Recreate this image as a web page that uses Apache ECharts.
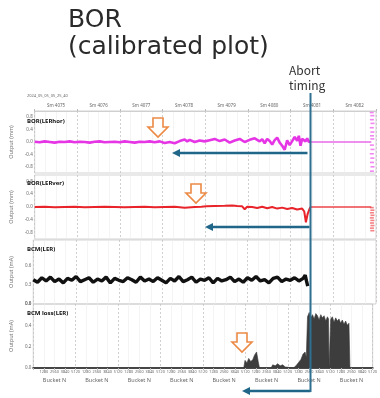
<!DOCTYPE html>
<html>
<head>
<meta charset="utf-8">
<script src="https://cdn.jsdelivr.net/npm/echarts@6/dist/echarts.min.js"></script>
<style>
  html, body { margin: 0; padding: 0; background: #fff; }
  #c { width: 380px; height: 398px; }
</style>
</head>
<body>
<div id="c"></div>
<script>
// Eight shifts of 5120 buckets each, laid end to end on one bucket axis
const shiftLabels = ['Sm 4075', 'Sm 4076', 'Sm 4077', 'Sm 4078', 'Sm 4079', 'Sm 4080', 'Sm 4081', 'Sm 4082'];
const bucketAxisLabel = 'Bucket N';
const bucketsPerShift = 5120;
const totalBuckets = 40960;
const abortBucket = 33100;
const timestamp = '2024_05_05_05_25_40';

const posTicks = [-0.8, -0.4, 0, 0.4, 0.8];
const bcmTicks = [0, 0.3, 0.6];
const lossTicks = [0, 0.2, 0.4, 0.6];

// BOR horizontal position (mm) before the abort
const horTrace = [
  [0, 0.01], [600, -0.01], [1200, 0.02], [1800, 0.0], [2400, -0.02], [3000, 0.01], [3600, 0.0],
  [4200, 0.02], [4800, -0.01], [5400, 0.01], [6000, 0.0], [6600, -0.02], [7200, 0.01], [7800, 0.02],
  [8400, -0.01], [9000, 0.0], [9600, 0.01], [10200, -0.01], [10800, 0.02], [11400, 0.0], [12000, -0.02],
  [12600, 0.01], [13200, 0.0], [13800, 0.02], [14400, -0.01], [15000, 0.02], [15600, -0.03], [16200, 0.0],
  [16800, -0.04], [17400, 0.03], [18000, 0.08], [18300, 0.02], [18600, 0.07], [19200, 0.0], [19800, 0.05],
  [20400, 0.02], [21000, 0.06], [21600, 0.1], [22200, 0.03], [22800, 0.08], [23400, -0.02], [24000, 0.05],
  [24600, 0.1], [25200, 0.0], [25800, 0.07], [26400, 0.12], [27000, 0.02], [27300, 0.09], [27600, -0.04],
  [27900, 0.1], [28200, 0.03], [28500, -0.08], [28800, 0.06], [29100, 0.14], [29400, -0.02], [29700, -0.12],
  [30000, -0.25], [30300, 0.05], [30600, -0.1], [30900, 0.03], [31200, 0.16], [31500, 0.04], [31700, 0.2],
  [31900, -0.12], [32100, 0.1], [32300, 0.16], [32500, 0.02], [32700, 0.12], [32900, 0.0], [33100, 0.03]
];
const horAfter = [[33100, 0], [40400, 0]];
const horColumn = [
  [40450, 0.95], [40520, 0.85], [40470, 0.72], [40540, 0.6], [40460, 0.46], [40530, 0.32], [40480, 0.2],
  [40520, 0.1], [40470, -0.1], [40540, -0.24], [40460, -0.38], [40520, -0.52], [40480, -0.66],
  [40540, -0.8], [40470, -0.94]
];

// BOR vertical position (mm) before the abort
const verTrace = [
  [0, 0.0], [1200, 0.01], [2400, -0.01], [3600, 0.0], [4800, 0.01], [6000, -0.01], [7200, 0.0],
  [8400, 0.01], [9600, 0.0], [10800, -0.01], [12000, 0.0], [13200, 0.01], [14400, -0.01], [15600, 0.0],
  [16800, 0.01], [18000, -0.02], [19200, 0.0], [20000, 0.01], [20600, 0.02], [21600, 0.03], [22800, 0.04],
  [23700, 0.05], [24300, 0.03], [24900, 0.02], [25200, -0.07], [25500, 0.01], [26100, 0.0], [26700, -0.03],
  [27300, 0.01], [27900, -0.04], [28500, 0.0], [29100, -0.05], [29700, -0.02], [30300, -0.06],
  [30900, -0.03], [31500, -0.08], [32100, -0.05], [32350, -0.14], [32550, -0.48], [32750, -0.22],
  [32950, -0.08], [33100, 0]
];
const verAfter = [[33100, 0], [40400, 0]];
const verColumn = [
  [40460, -0.02], [40530, -0.1], [40470, -0.18], [40540, -0.26], [40460, -0.34], [40530, -0.42],
  [40480, -0.5], [40540, -0.58], [40470, -0.66], [40520, -0.74]
];

// Beam current monitor (mA), sampled every 512 buckets
const bcmValues = [
  0.38, 0.34, 0.41, 0.36, 0.42, 0.35, 0.39, 0.33, 0.40, 0.37, 0.43, 0.35, 0.38, 0.41, 0.34, 0.39,
  0.36, 0.42, 0.33, 0.40, 0.37, 0.35, 0.41, 0.38, 0.34, 0.42, 0.36, 0.39, 0.35, 0.41, 0.37, 0.33,
  0.40, 0.36, 0.43, 0.35, 0.38, 0.42, 0.34, 0.39, 0.37, 0.41, 0.33, 0.40, 0.36, 0.38, 0.42, 0.35,
  0.39, 0.34, 0.41, 0.37, 0.43, 0.36, 0.38, 0.33, 0.40, 0.42, 0.35, 0.39, 0.37, 0.41, 0.36, 0.40
];
const bcmStep = 512;
const bcmTail = [[32500, 0.45], [32650, 0.36], [32800, 0.28]];

// Beam loss (mA)
const lossTrace = [
  [0, 0], [25400, 0], [25550, 0.07], [25800, 0.05], [26000, 0.09], [26250, 0.06], [26500, 0.08],
  [26700, 0.12], [26950, 0.15], [27150, 0.06], [27300, 0], [28700, 0], [28900, 0.03], [29200, 0.02],
  [29500, 0.04], [29800, 0.02], [30100, 0.03], [30400, 0.01], [30600, 0], [31400, 0], [31700, 0.02],
  [32000, 0.05], [32300, 0.08], [32550, 0.13], [32800, 0.15], [32950, 0.1], [33100, 0.48], [33300, 0.52],
  [33500, 0.47], [33700, 0.5], [33900, 0.46], [34100, 0.51], [34300, 0.49], [34500, 0.45], [34700, 0.5],
  [34900, 0.47], [35100, 0.49], [35300, 0.44], [35500, 0.48], [35640, 0.46], [35700, 0], [35850, 0],
  [35900, 0.46], [36100, 0.48], [36300, 0.43], [36500, 0.47], [36700, 0.44], [36900, 0.46], [37100, 0.42],
  [37300, 0.45], [37500, 0.41], [37700, 0.44], [37900, 0.4], [38100, 0.42], [38180, 0.41], [38220, 0],
  [40960, 0]
];

const bcmTrace = bcmValues.map((v, i) => [i * bcmStep, v]).concat(bcmTail);

const chart = echarts.init(document.getElementById('c'), null, { renderer: 'canvas' });

const FONT = 'Noto Sans';
const TITLE_FONT = '"DejaVu Sans"';
const panels = [
  { top: 111, height: 62 },
  { top: 175, height: 64 },
  { top: 240, height: 64 },
  { top: 304, height: 64 }
];

function bucketAxis(gridIndex, extra) {
  return Object.assign({
    type: 'value', gridIndex, min: 0, max: totalBuckets, interval: bucketsPerShift,
    axisLine: { show: false },
    axisTick: { show: false },
    axisLabel: { show: false },
    splitLine: { show: true, lineStyle: { color: '#c4c4c4', type: [2, 2], width: 0.8 } },
    minorTick: { show: false, splitNumber: 4 },
    minorSplitLine: { show: true, lineStyle: { color: '#ececec', width: 0.6 } }
  }, extra || {});
}

function outputAxis(gridIndex, min, max, ticks, name) {
  return {
    type: 'value', gridIndex, min, max,
    name, nameLocation: 'middle', nameGap: 10, nameRotate: 90,
    nameTextStyle: { fontSize: 5.5, color: '#777', fontFamily: FONT },
    axisLine: { show: false },
    axisTick: { show: false },
    axisLabel: {
      customValues: ticks, fontSize: 4.5, color: '#666', margin: 2, fontFamily: FONT,
      formatter: v => v.toFixed(1)
    },
    splitLine: { show: false }
  };
}

const option = {
  animation: false,
  backgroundColor: '#fff',
  grid: panels.map(p => ({
    left: 22, right: 4, top: p.top, height: p.height,
    show: true, borderColor: '#c8c8c8', borderWidth: 0.8, backgroundColor: 'transparent'
  })),
  xAxis: [
    bucketAxis(0),
    bucketAxis(1),
    bucketAxis(2),
    bucketAxis(3, { position: 'top', axisLine: { show: true, lineStyle: { color: '#4a4a4a', width: 2 } } }),
    {
      type: 'category', gridIndex: 0, position: 'top', data: shiftLabels, boundaryGap: true,
      axisLine: { show: true, lineStyle: { color: '#c8c8c8', width: 0.8 } },
      axisTick: { show: true, length: 2, lineStyle: { color: '#bbb' } },
      axisLabel: { fontSize: 4.5, color: '#666', margin: 3, fontFamily: FONT }
    },
    {
      type: 'value', gridIndex: 3, position: 'bottom', min: 0, max: totalBuckets, interval: 1280,
      axisLine: { show: false },
      axisTick: { show: true, length: 2, lineStyle: { color: '#bbb' } },
      axisLabel: {
        fontSize: 3.8, color: '#666', margin: 2, fontFamily: FONT,
        formatter: v => {
          if (v === 0) return '';
          const r = v % bucketsPerShift;
          return String(r === 0 ? bucketsPerShift : r);
        }
      },
      splitLine: { show: false }
    },
    {
      type: 'category', gridIndex: 3, position: 'bottom', offset: 7,
      data: shiftLabels.map(() => bucketAxisLabel), boundaryGap: true,
      axisLine: { show: false }, axisTick: { show: false },
      axisLabel: { fontSize: 5.5, color: '#666', margin: 2, fontFamily: FONT }
    }
  ],
  yAxis: [
    outputAxis(0, -1, 1, posTicks, 'Output (mm)'),
    outputAxis(1, -1, 1, posTicks, 'Output (mm)'),
    outputAxis(2, 0, 1, bcmTicks, 'Output (mA)'),
    outputAxis(3, 0, 0.6, lossTicks, 'Output (mA)')
  ],
  series: [
    {
      name: 'BOR(LERhor)', type: 'line', xAxisIndex: 0, yAxisIndex: 0, data: horTrace,
      showSymbol: false, lineStyle: { color: '#e535e5', width: 2.6 }, z: 5
    },
    {
      name: 'BOR(LERhor) after', type: 'line', xAxisIndex: 0, yAxisIndex: 0, data: horAfter,
      showSymbol: false, lineStyle: { color: '#e868e8', width: 1.4 }, z: 4
    },
    {
      name: 'BOR(LERhor) column', type: 'scatter', xAxisIndex: 0, yAxisIndex: 0, data: horColumn,
      symbol: 'rect', symbolSize: [4, 1.6], itemStyle: { color: '#ee66ee' }
    },
    {
      name: 'BOR(LERver)', type: 'line', xAxisIndex: 1, yAxisIndex: 1, data: verTrace,
      showSymbol: false, lineStyle: { color: '#e8242a', width: 2 }, z: 5
    },
    {
      name: 'BOR(LERver) after', type: 'line', xAxisIndex: 1, yAxisIndex: 1, data: verAfter,
      showSymbol: false, lineStyle: { color: '#ec4448', width: 1.4 }, z: 4
    },
    {
      name: 'BOR(LERver) column', type: 'scatter', xAxisIndex: 1, yAxisIndex: 1, data: verColumn,
      symbol: 'rect', symbolSize: [4, 1.6], itemStyle: { color: '#f06468' }
    },
    {
      name: 'BCM(LER)', type: 'line', xAxisIndex: 2, yAxisIndex: 2, data: bcmTrace,
      showSymbol: false, lineStyle: { color: '#111', width: 3.4 }, z: 5
    },
    {
      name: 'BCM loss(LER)', type: 'line', xAxisIndex: 3, yAxisIndex: 3, data: lossTrace,
      showSymbol: false, lineStyle: { color: '#3a3a3a', width: 0.6 },
      areaStyle: { color: '#3d3d3d', opacity: 1 }, z: 5
    }
  ]
};

chart.setOption(option);

// Annotations: abort timing marker, arrows and panel names
const abortX = chart.convertToPixel({ xAxisIndex: 0 }, abortBucket);
const BLUE = '#1f6688';
const ORANGE = '#ec8a45';

function downArrow(cx, y0) {
  return {
    type: 'polygon', z: 100,
    shape: { points: [[cx - 5, y0], [cx + 5, y0], [cx + 5, y0 + 9], [cx + 10, y0 + 9], [cx, y0 + 19], [cx - 10, y0 + 9], [cx - 5, y0 + 9]] },
    style: { fill: '#fff', stroke: ORANGE, lineWidth: 1.6 }
  };
}
function leftArrow(xTail, xHead, y) {
  return [
    { type: 'line', z: 100, shape: { x1: xTail, y1: y, x2: xHead + 6, y2: y }, style: { stroke: BLUE, lineWidth: 2.4 } },
    { type: 'polygon', z: 100, shape: { points: [[xHead, y], [xHead + 8, y - 4], [xHead + 8, y + 4]] }, style: { fill: BLUE } }
  ];
}
function panelName(text, y) {
  return {
    type: 'text', left: 27, top: y - 4, z: 50,
    style: { text, font: 'bold 6px ' + FONT, fill: '#111' }
  };
}

const graphics = [
  { type: 'text', left: 68, top: 8, style: { text: 'BOR', font: '25px ' + TITLE_FONT, fill: '#2a2a2a' } },
  { type: 'text', left: 68, top: 35, style: { text: '(calibrated plot)', font: '25px ' + TITLE_FONT, fill: '#2a2a2a' } },
  { type: 'text', left: 289, top: 63, style: { text: 'Abort\ntiming', font: '12px "Noto Sans CJK JP"', fill: '#333', lineHeight: 15 } },
  { type: 'text', left: 27, top: 94, style: { text: timestamp, font: '4px ' + FONT, fill: '#666' } },
  panelName('BOR(LERhor)', 122),
  panelName('BOR(LERver)', 184),
  panelName('BCM(LER)', 250),
  panelName('BCM loss(LER)', 314),
  { type: 'line', z: 110, shape: { x1: abortX, y1: 93, x2: abortX, y2: 392 }, style: { stroke: '#2f7090', lineWidth: 2 } },
  downArrow(158, 118),
  downArrow(196, 184),
  downArrow(242, 333)
].concat(
  leftArrow(abortX - 3, 172, 153),
  leftArrow(abortX - 1, 205, 227),
  leftArrow(abortX, 242, 391)
);

chart.setOption({ graphic: graphics });
</script>
</body>
</html>
